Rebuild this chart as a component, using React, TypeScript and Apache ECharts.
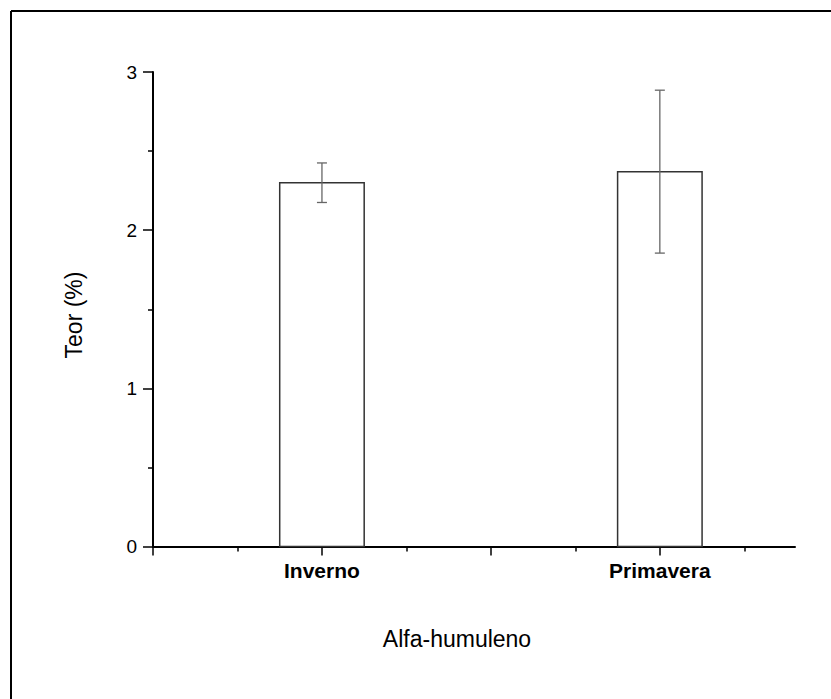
import { useEffect, useRef } from 'react';
import * as echarts from 'echarts';

// estações no eixo x (posições 1 e 3 numa escala 0..3,8)
const seasons = ['Inverno', 'Primavera'];
const seasonPositions = [1, 3];
// teor médio (%) e desvio
const teorMeans = [2.3, 2.37];
const teorErrors = [0.125, 0.515];

const xMajorTicks = [0, 1, 2, 3];
const xMinorTicks = [0.5, 1.5, 2.5, 3.5];

const FONT = '"Liberation Sans", Arial, Helvetica, sans-serif';
const BAR_HALF = 0.25;

export default function App() {
  const elRef = useRef<HTMLDivElement | null>(null);

  useEffect(() => {
    const el = elRef.current;
    if (!el) return;
    const chart = echarts.init(el, undefined, { renderer: 'svg' });

    const data = seasons.map((_, i) => [seasonPositions[i], teorMeans[i], teorErrors[i]]);

    chart.setOption({
      animation: false,
      backgroundColor: '#fff',
      grid: { left: 153, right: 36, top: 72, bottom: 152.5 },
      xAxis: [
        {
          type: 'value',
          position: 'bottom',
          min: 0,
          max: 3.8,
          interval: 1,
          splitLine: { show: false },
          axisLine: { lineStyle: { color: '#000', width: 2 } },
          axisTick: {
            customValues: xMajorTicks,
            length: 9,
            lineStyle: { color: '#000', width: 1.5 },
          },
          axisLabel: {
            customValues: seasonPositions,
            formatter: (v: number) => seasons[seasonPositions.indexOf(v)] ?? '',
            margin: 13,
            fontFamily: FONT,
            fontSize: 21,
            fontWeight: 'bold',
            color: '#000',
          },
        },
        {
          type: 'value',
          position: 'bottom',
          offset: 0,
          min: 0,
          max: 3.8,
          interval: 1,
          splitLine: { show: false },
          axisLine: { show: false },
          axisLabel: { show: false },
          axisTick: {
            customValues: xMinorTicks,
            length: 5,
            lineStyle: { color: '#000', width: 1.5 },
          },
        },
      ],
      yAxis: {
        type: 'value',
        min: 0,
        max: 3,
        interval: 1,
        splitLine: { show: false },
        axisLine: { show: true, lineStyle: { color: '#000', width: 2 } },
        axisTick: { show: true, length: 10, lineStyle: { color: '#000', width: 1.5 } },
        minorTick: { show: true, splitNumber: 2, length: 5, lineStyle: { color: '#000', width: 1.5 } },
        minorSplitLine: { show: false },
        axisLabel: { margin: 16, fontFamily: FONT, fontSize: 19, color: '#000' },
      },
      graphic: [
        {
          type: 'line',
          shape: { x1: 11, y1: 11, x2: 831, y2: 11 },
          style: { stroke: '#000', lineWidth: 2 },
        },
        {
          type: 'line',
          shape: { x1: 11, y1: 11, x2: 11, y2: 699 },
          style: { stroke: '#000', lineWidth: 2 },
        },
        {
          type: 'text',
          x: 74,
          y: 315,
          rotation: Math.PI / 2,
          style: {
            text: 'Teor (%)',
            font: `23px ${FONT}`,
            fill: '#000',
            align: 'center',
            verticalAlign: 'middle',
          },
        },
        {
          type: 'text',
          x: 457,
          y: 639,
          style: {
            text: 'Alfa-humuleno',
            font: `23px ${FONT}`,
            fill: '#000',
            align: 'center',
            verticalAlign: 'middle',
          },
        },
      ],
      series: [
        {
          type: 'custom',
          xAxisIndex: 0,
          yAxisIndex: 0,
          data,
          renderItem: (_params: unknown, api: any) => {
            const x = api.value(0);
            const y = api.value(1);
            const e = api.value(2);
            const tl = api.coord([x - BAR_HALF, y]);
            const br = api.coord([x + BAR_HALF, 0]);
            const top = api.coord([x, y + e]);
            const bot = api.coord([x, y - e]);
            const errStyle = { stroke: '#666', lineWidth: 1.3 };
            return {
              type: 'group',
              children: [
                {
                  type: 'rect',
                  shape: { x: tl[0], y: tl[1], width: br[0] - tl[0], height: br[1] - tl[1] },
                  style: { fill: '#fff', stroke: '#333', lineWidth: 1.5 },
                },
                {
                  type: 'line',
                  shape: { x1: top[0], y1: top[1], x2: bot[0], y2: bot[1] },
                  style: errStyle,
                },
                {
                  type: 'line',
                  shape: { x1: top[0] - 5, y1: top[1], x2: top[0] + 5, y2: top[1] },
                  style: errStyle,
                },
                {
                  type: 'line',
                  shape: { x1: bot[0] - 5, y1: bot[1], x2: bot[0] + 5, y2: bot[1] },
                  style: errStyle,
                },
              ],
            };
          },
        },
      ],
    });

    return () => {
      chart.dispose();
    };
  }, []);

  return (
    <div
      ref={elRef}
      style={{ position: 'fixed', left: 0, top: 0, width: 831, height: 699, background: '#fff' }}
    />
  );
}
